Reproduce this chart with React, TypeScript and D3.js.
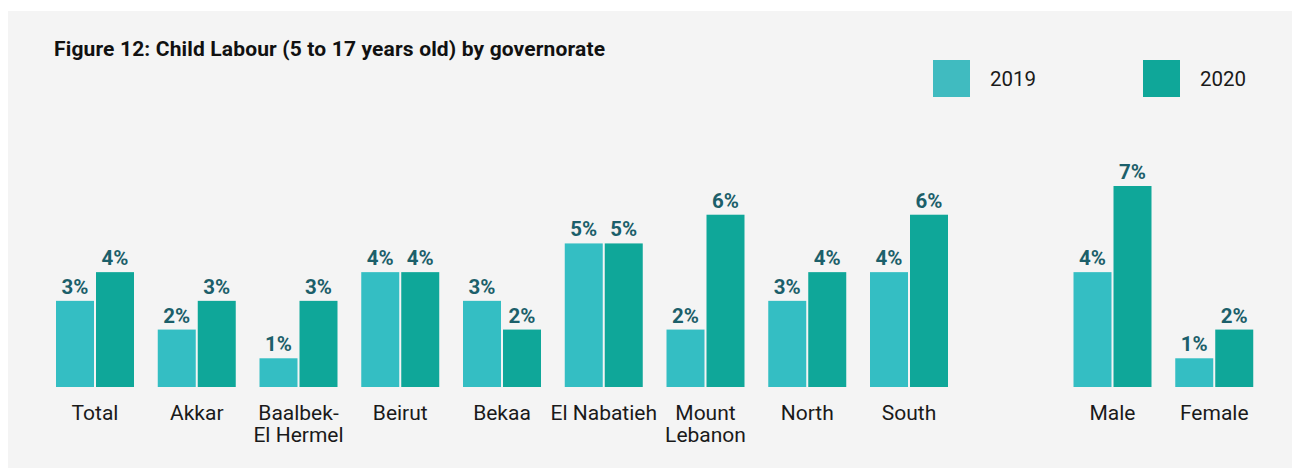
import React from "react";
import { scaleBand, scaleLinear } from "d3";

const categories = ["Total", "Akkar", "Baalbek-\nEl Hermel", "Beirut", "Bekaa", "El Nabatieh", "Mount\nLebanon", "North", "South", "", "Male", "Female"];
const values2019 = [3, 2, 1, 4, 3, 5, 2, 3, 4, null, 4, 1];
const values2020 = [4, 3, 3, 4, 2, 5, 6, 4, 6, null, 7, 2];
const seriesNames = ["2019", "2020"];
const colors = ["#34bec3", "#0fa799"];

const W = 1292;
const H = 468;
const baseline = 387;

export default function App() {
  const x = scaleBand<string>()
    .domain(categories.map((c, i) => i + ""))
    .range([56, 1253.25])
    .paddingInner(0.2334)
    .paddingOuter(0);
  const y = scaleLinear().domain([0, 7]).range([baseline, 186]);
  const inner = scaleBand<string>().domain(seriesNames).range([0, x.bandwidth()]).paddingInner(0.05);

  const series = [values2019, values2020];

  return (
    <svg width={W} height={H} style={{ position: "absolute", left: 0, top: 0 }} fontFamily="Roboto">
      <rect x={8} y={11} width={W - 8} height={H - 11} fill="#f4f4f4" />
      <text x={54} y={56} fontSize={21} fontWeight="bold" fill="#111" textLength={551} lengthAdjust="spacing">
        Figure 12: Child Labour (5 to 17 years old) by governorate
      </text>

      {seriesNames.map((s, i) => (
        <g key={s} transform={`translate(${933 + i * 210},60)`}>
          <rect width={37} height={37} fill={i === 0 ? "#40bbc0" : colors[1]} />
          <text x={57} y={26} fontSize={20.5} fill="#1a1a1a">{s}</text>
        </g>
      ))}

      {categories.map((c, ci) => {
        if (!c) return null;
        const gx = x(ci + "")!;
        return (
          <g key={ci} transform={`translate(${gx},0)`}>
            {series.map((vals, si) => {
              const v = vals[ci] as number;
              const bx = inner(seriesNames[si])!;
              return (
                <g key={si}>
                  <rect x={bx} y={y(v)} width={inner.bandwidth()} height={baseline - y(v)} fill={colors[si]} />
                  <text
                    x={bx + inner.bandwidth() / 2}
                    y={y(v) - 7}
                    textAnchor="middle"
                    fontSize={20.5}
                    fontWeight="bold"
                    fill="#1c5f6a"
                  >
                    {v}%
                  </text>
                </g>
              );
            })}
            <text x={x.bandwidth() / 2} y={420} textAnchor="middle" fontSize={21} fill="#1a1a1a">
              {c.split("\n").map((line, li) => (
                <tspan key={li} x={x.bandwidth() / 2} dy={li === 0 ? 0 : 22}>{line}</tspan>
              ))}
            </text>
          </g>
        );
      })}
    </svg>
  );
}
